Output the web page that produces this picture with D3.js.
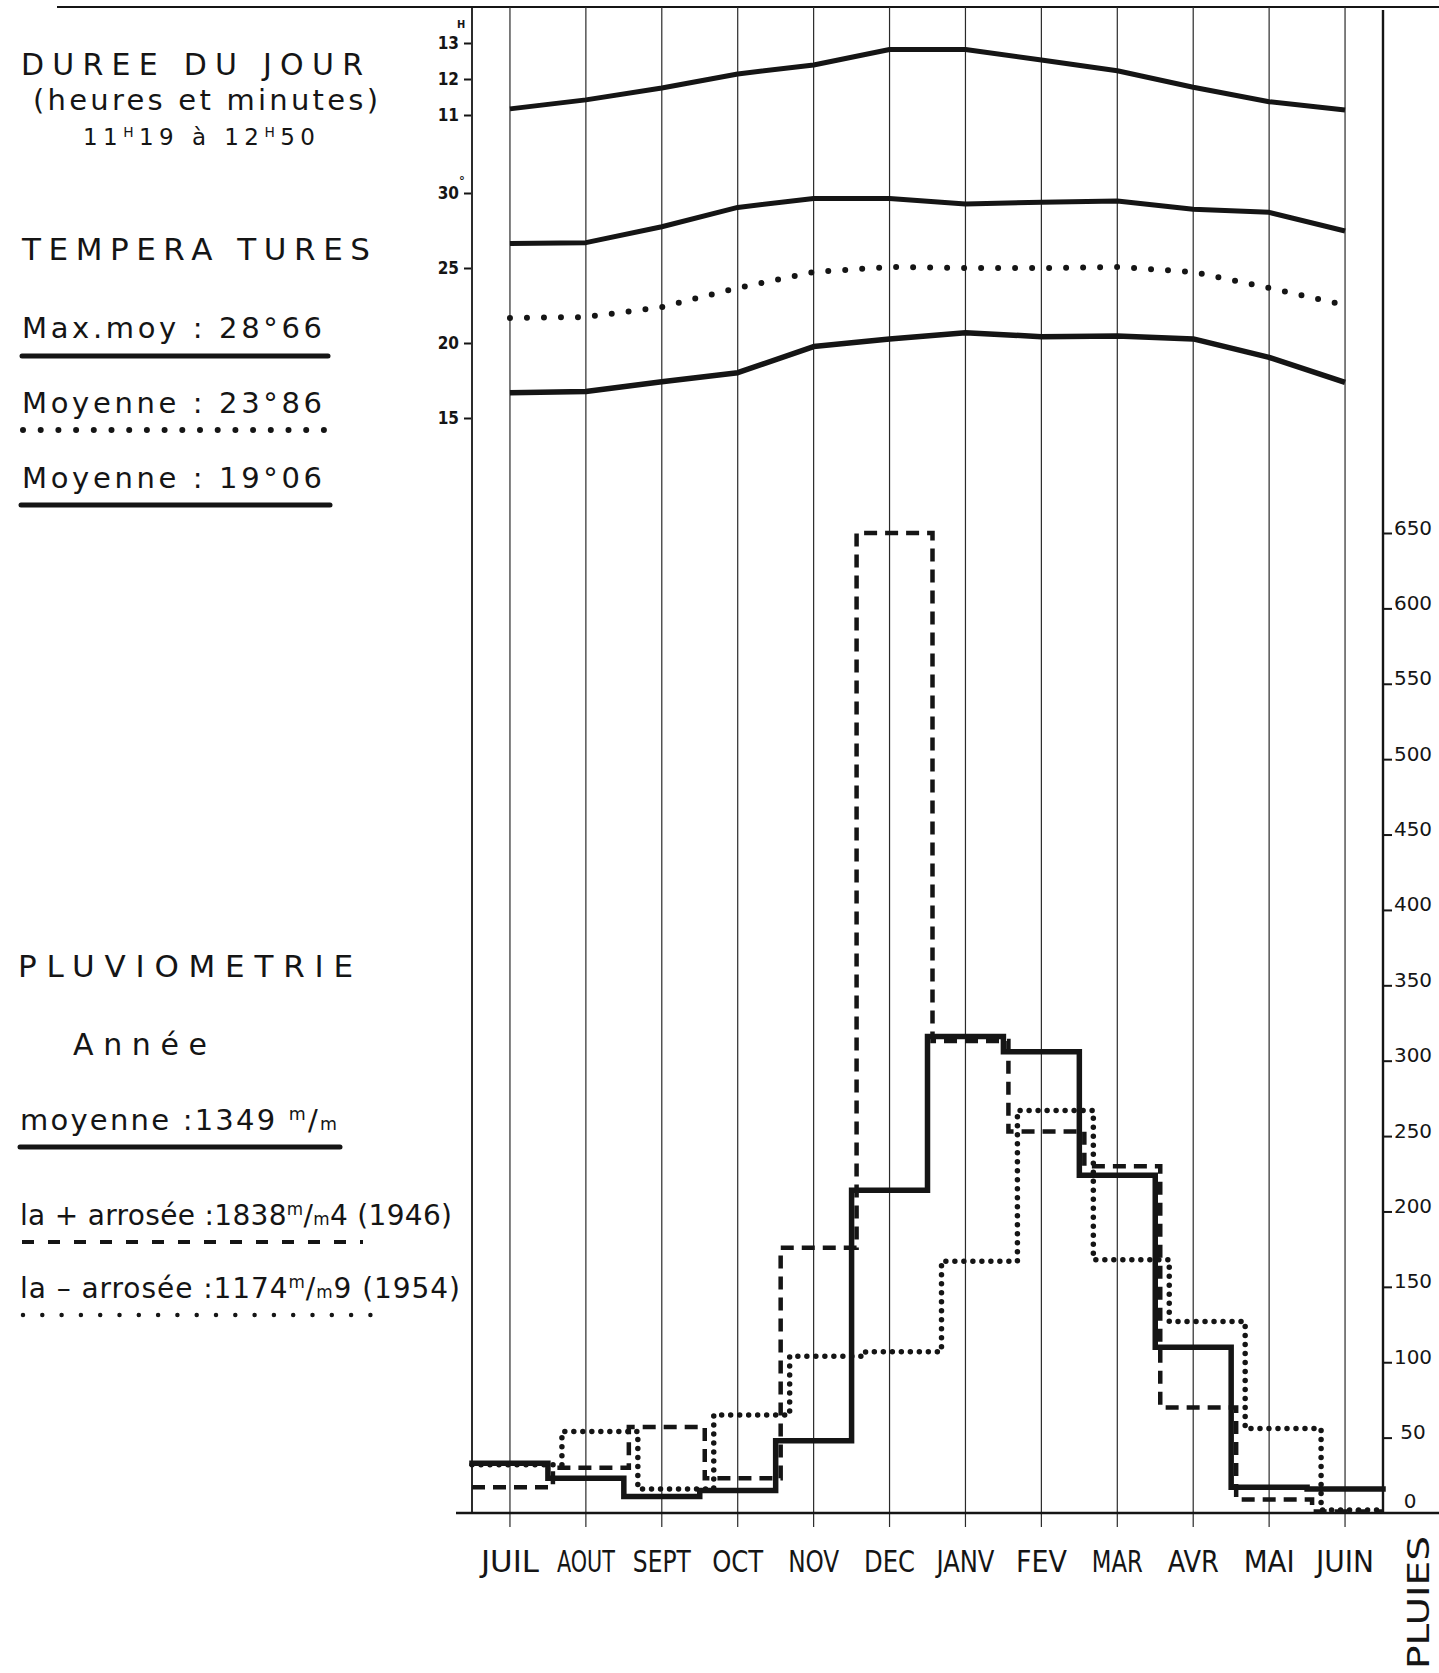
<!DOCTYPE html>
<html><head><meta charset="utf-8">
<script src="https://cdn.jsdelivr.net/npm/d3@7"></script>
<style>html,body{margin:0;padding:0;background:#fff;} svg{display:block;background:#fff;}</style>
</head><body>
<svg id="chart" width="1439" height="1673"></svg>
<script>
// ---------------- DATA ----------------
const months = ["JUIL","AOUT","SEPT","OCT","NOV","DEC","JANV","FEV","MAR","AVR","MAI","JUIN"];
// day length (decimal hours)
const dayLengthHours = [11.17, 11.42, 11.75, 12.14, 12.39, 12.82, 12.82, 12.53, 12.23, 11.77, 11.37, 11.14];
// temperatures (°C)
const tempMax  = [26.64, 26.69, 27.75, 29.04, 29.64, 29.64, 29.27, 29.38, 29.47, 28.91, 28.71, 27.47];
const tempMean = [21.67, 21.73, 22.4, 23.67, 24.73, 25.07, 25.0, 25.0, 25.07, 24.73, 23.67, 22.53];
const tempMin  = [16.69, 16.76, 17.42, 18.02, 19.76, 20.27, 20.69, 20.42, 20.47, 20.27, 19.04, 17.38];
// rainfall (mm)
const rainMean     = [33, 23, 11, 15, 48, 214, 316, 306, 224, 110, 17, 16];
const rainWet1946  = [17, 30, 57, 23, 176, 650, 313, 253, 230, 70, 9, 1];
const rainDry1954  = [32, 54, 16, 65, 104, 107, 167, 267, 168, 127, 56, 2];
// tick values
const hourTicks = [11, 12, 13];
const tempTicks = [15, 20, 25, 30];
const rainTicks = [50, 100, 150, 200, 250, 300, 350, 400, 450, 500, 550, 600, 650];

// ---------------- SETUP ----------------
const svg = d3.select("#chart");
const ink = "#151515";
const FONT = "'DejaVu Sans', 'Noto Sans', sans-serif";
const NARROW = "'Liberation Sans Narrow', 'DejaVu Sans Condensed', 'DejaVu Sans', sans-serif";
const L = 472, R = 1383, TOP = 7, BASE = 1513;

const x = d3.scaleBand().domain(months).range([L, R]);
const cx = m => x(m) + x.bandwidth() / 2;
const yHour = d3.scaleLinear().domain([11, 13]).range([115, 43]);
const yTemp = d3.scaleLinear().domain([15, 30]).range([418, 193]);
const yRain = d3.scaleLinear().domain([0, 650]).range([BASE, 533]);

svg.append("rect").attr("width", 1439).attr("height", 1673).attr("fill", "#fff");

// ---------------- FRAME ----------------
const frame = svg.append("g").attr("stroke", ink).attr("fill", "none");
frame.append("line").attr("x1", 57).attr("x2", 1439).attr("y1", TOP).attr("y2", TOP).attr("stroke-width", 2.2);
frame.selectAll("line.grid").data(months).join("line").attr("class", "grid")
  .attr("x1", d => cx(d)).attr("x2", d => cx(d)).attr("y1", TOP).attr("y2", 1527)
  .attr("stroke-width", 1.2).attr("stroke", "#2a2a2a");
frame.append("line").attr("x1", L).attr("x2", L).attr("y1", TOP).attr("y2", BASE).attr("stroke-width", 1.8);
frame.append("line").attr("x1", R).attr("x2", R).attr("y1", 10).attr("y2", BASE).attr("stroke-width", 2.4);
frame.append("line").attr("x1", 456).attr("x2", 1439).attr("y1", BASE).attr("y2", BASE).attr("stroke-width", 2.6);

// ---------------- LEFT AXES ----------------
function styleLeftAxis(g) {
  g.select(".domain").remove();
  g.selectAll(".tick line").attr("stroke", ink).attr("stroke-width", 2).attr("x1", -1).attr("x2", -8);
  g.selectAll(".tick text").attr("fill", ink).attr("font-family", NARROW).attr("font-weight", "bold")
    .attr("font-size", 17).attr("x", -13);
}
svg.append("g").attr("transform", `translate(${L},0)`)
  .call(d3.axisLeft(yHour).tickValues(hourTicks).tickSize(8).tickFormat(d3.format("d")))
  .call(styleLeftAxis);
svg.append("g").attr("transform", `translate(${L},0)`)
  .call(d3.axisLeft(yTemp).tickValues(tempTicks).tickSize(8).tickFormat(d3.format("d")))
  .call(styleLeftAxis);
svg.append("text").attr("x", L - 15).attr("y", yHour(13) - 15).attr("font-family", NARROW)
  .attr("font-weight", "bold").attr("font-size", 11).attr("fill", ink).text("H");
svg.append("text").attr("x", L - 13).attr("y", yTemp(30) - 8).attr("font-family", NARROW)
  .attr("font-weight", "bold").attr("font-size", 13).attr("fill", ink).text("°");

// ---------------- RIGHT AXIS ----------------
const ra = svg.append("g").attr("transform", `translate(${R},0)`)
  .call(d3.axisRight(yRain).tickValues(rainTicks).tickSize(9).tickFormat(d3.format("d")));
ra.select(".domain").remove();
ra.selectAll(".tick line").attr("stroke", ink).attr("stroke-width", 2);
ra.selectAll(".tick text").attr("fill", ink).attr("font-family", FONT).attr("font-size", 20)
  .attr("text-anchor", "middle").attr("x", 30).attr("dy", 0).attr("y", 1);
svg.append("text").attr("x", R + 27).attr("y", yRain(0) - 5).attr("text-anchor", "middle")
  .attr("font-family", FONT).attr("font-size", 20).attr("fill", ink).text("0");

// ---------------- TOP LINES ----------------
const idx = months.map((m, i) => i);
function topLine(vals, yScale) {
  return d3.line().x(i => cx(months[i])).y(i => yScale(vals[i]))(idx);
}
const tl = svg.append("g").attr("fill", "none").attr("stroke", ink).attr("stroke-linejoin", "round");
tl.append("path").attr("d", topLine(dayLengthHours, yHour)).attr("stroke-width", 5);
tl.append("path").attr("d", topLine(tempMax, yTemp)).attr("stroke-width", 5);
tl.append("path").attr("d", topLine(tempMin, yTemp)).attr("stroke-width", 5.5);
tl.append("path").attr("d", topLine(tempMean, yTemp)).attr("stroke-width", 6)
  .attr("stroke-dasharray", "0 17").attr("stroke-linecap", "round");

// ---------------- RAIN STEPS ----------------
function stepPath(vals, off) {
  const pts = vals.map((v, i) => [i === 0 ? L : x(months[i]) + off, yRain(v)]);
  pts.push([R, yRain(vals[vals.length - 1])]);
  return d3.line().curve(d3.curveStepAfter)(pts);
}
const rg = svg.append("g").attr("fill", "none").attr("stroke", ink);
rg.append("path").attr("d", stepPath(rainDry1954, 14)).attr("stroke-width", 5.5)
  .attr("stroke-dasharray", "0 9").attr("stroke-linecap", "round");
rg.append("path").attr("d", stepPath(rainWet1946, 5)).attr("stroke-width", 4.5)
  .attr("stroke-dasharray", "13 8");
rg.append("path").attr("d", stepPath(rainMean, 0)).attr("stroke-width", 5.5)
  .attr("stroke-linejoin", "miter").attr("stroke-linecap", "square");

// ---------------- MONTH LABELS ----------------
svg.selectAll("text.month").data(months).join("text").attr("class", "month")
  .attr("x", d => cx(d)).attr("y", 1572).attr("text-anchor", "middle")
  .attr("font-family", NARROW).attr("font-size", 30).attr("fill", ink)
  .attr("textLength", d => 30 + 7 * d.length).attr("lengthAdjust", "spacingAndGlyphs")
  .text(d => d);

svg.append("text").attr("transform", "translate(1429,1669) rotate(-90)")
  .attr("font-family", FONT).attr("font-size", 30).attr("fill", ink)
  .attr("textLength", 133).attr("lengthAdjust", "spacingAndGlyphs").text("PLUIES");

// ---------------- LEFT TEXT PANEL ----------------
function label(xp, yp, size, len, parts) {
  const t = svg.append("text").attr("x", xp).attr("y", yp).attr("font-size", size)
    .attr("font-family", FONT).attr("fill", ink);
  if (len) t.attr("textLength", len).attr("lengthAdjust", "spacing");
  let rise = 0;
  parts.forEach(p => {
    const o = typeof p === "string" ? { t: p } : p;
    const r = o.rise || 0;
    t.append("tspan").attr("dy", rise - r).attr("font-size", size * (o.fs || 1)).text(o.t);
    rise = r;
  });
  return t;
}
label(21, 75, 30, 342, ["DUREE  DU  JOUR"]);
label(33, 110, 29, 345, ["(heures et minutes)"]);
label(83, 145, 23, 232, ["11", { t: "H", rise: 8, fs: 0.6 }, "19  à  12", { t: "H", rise: 8, fs: 0.6 }, "50"]);
label(22, 260, 31, 348, ["TEMPERA TURES"]);
label(22, 338, 29, 300, ["Max.moy  :  28°66"]);
label(22, 413, 29, 300, ["Moyenne  :  23°86"]);
label(22, 488, 29, 300, ["Moyenne  :  19°06"]);
label(18, 977, 31, 335, ["PLUVIOMETRIE"]);
label(73, 1055, 30, 134, ["Année"]);
label(20, 1130, 29, 317, ["moyenne  :1349 ", { t: "m", rise: 10, fs: 0.6 }, "/", { t: "m", fs: 0.6 }]);
label(20, 1225, 28, 432, ["la + arrosée :1838", { t: "m", rise: 10, fs: 0.6 }, "/", { t: "m", fs: 0.6 }, "4 (1946)"]);
label(20, 1298, 28, 440, ["la – arrosée :1174", { t: "m", rise: 10, fs: 0.6 }, "/", { t: "m", fs: 0.6 }, "9 (1954)"]);

// legend underlines
const lg = svg.append("g").attr("stroke", ink).attr("fill", "none");
lg.append("line").attr("x1", 22).attr("x2", 328).attr("y1", 356).attr("y2", 356).attr("stroke-width", 5).attr("stroke-linecap", "round");
lg.append("line").attr("x1", 23).attr("x2", 325).attr("y1", 430).attr("y2", 430).attr("stroke-width", 6)
  .attr("stroke-dasharray", "0 17.7").attr("stroke-linecap", "round");
lg.append("line").attr("x1", 21).attr("x2", 330).attr("y1", 505).attr("y2", 505).attr("stroke-width", 5).attr("stroke-linecap", "round");
lg.append("line").attr("x1", 20).attr("x2", 340).attr("y1", 1147).attr("y2", 1147).attr("stroke-width", 5).attr("stroke-linecap", "round");
lg.append("line").attr("x1", 22).attr("x2", 363).attr("y1", 1242).attr("y2", 1242).attr("stroke-width", 4)
  .attr("stroke-dasharray", "12 14");
lg.append("line").attr("x1", 23).attr("x2", 372).attr("y1", 1315).attr("y2", 1315).attr("stroke-width", 4.5)
  .attr("stroke-dasharray", "0 19.3").attr("stroke-linecap", "round");
</script>
</body></html>
